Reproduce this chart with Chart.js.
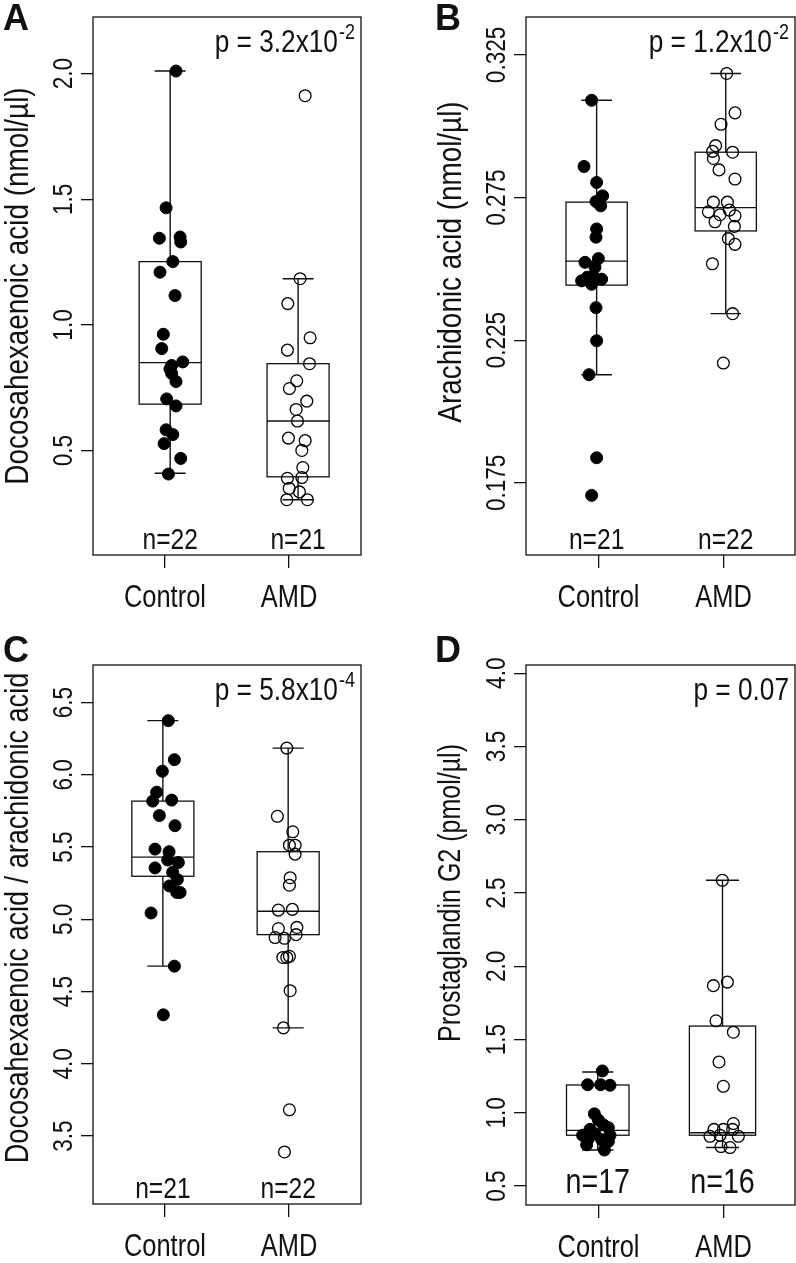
<!DOCTYPE html>
<html><head><meta charset="utf-8">
<script src="https://cdn.jsdelivr.net/npm/chart.js@4.4.1/dist/chart.umd.min.js"></script>
<style>
html,body{margin:0;padding:0;background:#fff;}
body{width:796px;height:1263px;position:relative;overflow:hidden;}
canvas{position:absolute;}
</style></head><body>
<canvas id="cA" width="398" height="632" style="left:0px;top:0px"></canvas>
<canvas id="cB" width="398" height="632" style="left:398px;top:0px"></canvas>
<canvas id="cC" width="398" height="631" style="left:0px;top:632px"></canvas>
<canvas id="cD" width="398" height="631" style="left:398px;top:632px"></canvas>
<script>
// ---------- data ----------
const categories = ['Control', 'AMD'];

// Panel A: Docosahexaenoic acid (nmol/µl)
const aControlValues = [2.01, 1.466, 1.345, 1.35, 1.33, 1.252, 1.21, 1.117, 0.963, 0.906, 0.853, 0.839, 0.825, 0.807, 0.775, 0.706, 0.678, 0.583, 0.564, 0.528, 0.469, 0.407];
const aControlJitter = [1.089, 1.009, 0.955, 1.122, 1.127, 1.063, 0.960, 1.081, 0.987, 0.974, 1.143, 1.054, 1.04, 1.054, 1.089, 1.014, 1.089, 1.009, 1.063, 0.993, 1.127, 1.028];
const aAmdValues = [1.912, 1.184, 1.085, 0.949, 0.90, 0.846, 0.778, 0.747, 0.697, 0.664, 0.618, 0.550, 0.540, 0.501, 0.433, 0.390, 0.393, 0.350, 0.336, 0.305, 0.305];
const aAmdJitter = [2.130, 2.089, 1.990, 2.170, 1.987, 2.165, 2.062, 2.003, 2.143, 2.057, 2.068, 1.995, 2.130, 2.103, 2.111, 1.987, 2.103, 2.001, 2.084, 1.982, 2.148];
const aBoxControl = [0.41, 0.685, 0.85, 1.252, 2.01];   // low whisker, Q1, median, Q3, high whisker
const aBoxAmd = [0.305, 0.396, 0.618, 0.846, 1.184];
const aTicks = [0.5, 1.0, 1.5, 2.0];
const aTickLabels = ['0.5', '1.0', '1.5', '2.0'];
const aCounts = ['n=22', 'n=21'];

// Panel B: Arachidonic acid (nmol/µl)
const bControlValues = [0.3091, 0.2859, 0.2803, 0.2756, 0.2736, 0.2721, 0.2640, 0.2611, 0.2523, 0.2536, 0.2506, 0.2474, 0.2458, 0.2471, 0.2464, 0.2446, 0.2364, 0.2248, 0.2129, 0.1838, 0.1706];
const bControlJitter = [0.945, 0.884, 0.985, 1.033, 0.980, 1.017, 0.985, 0.980, 0.892, 0.999, 0.972, 0.959, 0.865, 0.911, 1.025, 0.945, 0.980, 0.985, 0.924, 0.985, 0.945];
const bAmdValues = [0.3185, 0.3047, 0.3007, 0.2932, 0.2912, 0.2909, 0.2887, 0.2847, 0.2815, 0.2734, 0.2734, 0.2700, 0.2690, 0.2706, 0.2686, 0.2665, 0.2649, 0.2606, 0.2586, 0.2518, 0.2343, 0.2170];
const bAmdJitter = [2.025, 2.092, 1.980, 1.937, 1.913, 2.073, 1.919, 1.964, 2.092, 1.919, 2.031, 1.879, 1.972, 2.047, 2.092, 1.932, 2.087, 2.039, 2.092, 1.911, 2.073, 1.999];
const bBoxControl = [0.2129, 0.2443, 0.2527, 0.2734, 0.3091];
const bBoxAmd = [0.2343, 0.2633, 0.2715, 0.2909, 0.3185];
const bTicks = [0.175, 0.225, 0.275, 0.325];
const bTickLabels = ['0.175', '0.225', '0.275', '0.325'];
const bCounts = ['n=21', 'n=22'];

// Panel C: Docosahexaenoic acid / arachidonic acid
const cControlValues = [6.375, 6.105, 6.025, 5.880, 5.818, 5.825, 5.718, 5.648, 5.486, 5.468, 5.411, 5.393, 5.356, 5.326, 5.276, 5.231, 5.186, 5.186, 5.044, 4.676, 4.339];
const cControlJitter = [1.027, 1.076, 0.979, 0.933, 0.901, 1.054, 0.955, 1.081, 0.920, 1.033, 1.022, 1.108, 0.920, 1.062, 1.100, 1.036, 1.095, 1.122, 0.888, 1.076, 0.987];
const cAmdValues = [6.185, 5.713, 5.606, 5.513, 5.513, 5.451, 5.288, 5.236, 5.064, 5.069, 4.936, 4.944, 4.874, 4.869, 4.894, 4.736, 4.744, 4.736, 4.506, 4.249, 3.682, 3.390];
const cAmdJitter = [1.982, 1.906, 2.030, 2.003, 2.049, 2.049, 2.009, 2.003, 1.914, 2.027, 1.914, 2.063, 1.888, 1.963, 2.057, 1.982, 2.003, 1.950, 2.009, 1.955, 2.003, 1.963];
const cBoxControl = [4.676, 5.298, 5.431, 5.818, 6.375];
const cBoxAmd = [4.249, 4.894, 5.056, 5.468, 6.185];
const cTicks = [3.5, 4.0, 4.5, 5.0, 5.5, 6.0, 6.5];
const cTickLabels = ['3.5', '4.0', '4.5', '5.0', '5.5', '6.0', '6.5'];
const cCounts = ['n=21', 'n=22'];

// Panel D: Prostaglandin G2 (pmol/µl)
const dControlValues = [1.286, 1.192, 1.192, 1.188, 0.993, 0.951, 0.918, 0.899, 0.887, 0.847, 0.857, 0.847, 0.824, 0.817, 0.805, 0.782, 0.746];
const dControlJitter = [1.031, 0.913, 1.017, 1.092, 0.967, 0.999, 1.039, 1.079, 0.932, 0.873, 0.972, 1.092, 0.919, 1.025, 1.079, 0.905, 1.047];
const dAmdValues = [2.587, 1.868, 1.892, 1.628, 1.550, 1.347, 1.181, 0.887, 0.887, 0.927, 0.887, 0.840, 0.847, 0.840, 0.770, 0.763];
const dAmdJitter = [1.991, 1.919, 2.031, 1.940, 2.079, 1.964, 1.999, 1.924, 1.999, 2.079, 2.073, 1.892, 1.972, 2.119, 1.980, 2.052];
const dBoxControl = [0.746, 0.847, 0.880, 1.190, 1.279];
const dBoxAmd = [0.763, 0.847, 0.864, 1.592, 2.587];
const dTicks = [0.5, 1.0, 1.5, 2.0, 2.5, 3.0, 3.5, 4.0];
const dTickLabels = ['0.5', '1.0', '1.5', '2.0', '2.5', '3.0', '3.5', '4.0'];
const dCounts = ['n=17', 'n=16'];

const panelLetters = ['A', 'B', 'C', 'D'];
const yTitles = ['Docosahexaenoic acid (nmol/\u00b5l)', 'Arachidonic acid (nmol/\u00b5l)', 'Docosahexaenoic acid / arachidonic acid', 'Prostaglandin G2 (pmol/\u00b5l)'];
const pTexts = ['p = 3.2x10', 'p = 1.2x10', 'p = 5.8x10', 'p = 0.07'];
const pExponents = ['-2', '-2', '-4', ''];

// ---------- layout / style ----------
const FAM = '"Liberation Sans", Arial, Helvetica, sans-serif';
const SQ = 0.82; // condensed look
const INK = '#111';

const panels = [
  { id: 'cA', ox: 0, oy: 0, L: 93, T: 17, R: 361, B: 555, yMin: 0.085, yMax: 2.225, xMin: 0.42, xMax: 2.58,
    centers: [1.042, 2.073], half: [0.25, 0.25], nSize: 30, nOff: 6, titleSize: 34, titleY: 286,
    ctrl: [aControlJitter, aControlValues], amd: [aAmdJitter, aAmdValues], boxes: [aBoxControl, aBoxAmd],
    ticks: aTicks, tickLabels: aTickLabels, counts: aCounts },
  { id: 'cB', ox: 398, oy: 0, L: 526, T: 17, R: 795, B: 555, yMin: 0.1497, yMax: 0.3383, xMin: 0.42, xMax: 2.572,
    centers: [0.985, 2.018], half: [0.245, 0.245], nSize: 30, nOff: 6, titleSize: 34, titleY: 262,
    ctrl: [bControlJitter, bControlValues], amd: [bAmdJitter, bAmdValues], boxes: [bBoxControl, bBoxAmd],
    ticks: bTicks, tickLabels: bTickLabels, counts: bCounts },
  { id: 'cC', ox: 0, oy: 632, L: 93, T: 665, R: 361, B: 1204, yMin: 3.03, yMax: 6.76, xMin: 0.42, xMax: 2.58,
    centers: [0.983, 1.993], half: [0.25, 0.25], nSize: 30, nOff: 6, titleSize: 33, titleY: 918,
    ctrl: [cControlJitter, cControlValues], amd: [cAmdJitter, cAmdValues], boxes: [cBoxControl, cBoxAmd],
    ticks: cTicks, tickLabels: cTickLabels, counts: cCounts },
  { id: 'cD', ox: 398, oy: 632, L: 526, T: 665, R: 795, B: 1205, yMin: 0.371, yMax: 4.056, xMin: 0.42, xMax: 2.572,
    centers: [0.994, 1.992], half: [0.25, 0.265], nSize: 35, nOff: 12, titleSize: 30.5, titleY: 893,
    ctrl: [dControlJitter, dControlValues], amd: [dAmdJitter, dAmdValues], boxes: [dBoxControl, dBoxAmd],
    ticks: dTicks, tickLabels: dTickLabels, counts: dCounts }
];

function drawText(ctx, s, x, y, size, o) {
  o = o || {};
  ctx.save();
  ctx.translate(x, y);
  if (o.rot) ctx.rotate(o.rot);
  const sq = o.sq === undefined ? SQ : o.sq;
  ctx.scale(sq, 1);
  ctx.font = (o.bold ? 'bold ' : '') + size + 'px ' + FAM;
  ctx.fillStyle = INK;
  ctx.textAlign = o.align || 'center';
  ctx.textBaseline = o.base || 'alphabetic';
  ctx.fillText(s, 0, 0);
  ctx.restore();
}
function textWidth(ctx, s, size) {
  ctx.save();
  ctx.font = size + 'px ' + FAM;
  const w = ctx.measureText(s).width * SQ;
  ctx.restore();
  return w;
}

panels.forEach((p, idx) => {
  const canvas = document.getElementById(p.id);
  const cw = canvas.width, ch = canvas.height;
  const yW = p.L - p.ox;
  const xH = 40;
  const padTop = p.T - p.oy;
  const padRight = p.ox + cw - p.R;
  const padBottom = p.oy + ch - p.B - xH;

  const boxPlugin = {
    id: 'boxes' + idx,
    beforeDatasetsDraw(chart) {
      const ctx = chart.ctx, xs = chart.scales.x, ys = chart.scales.y;
      ctx.save();
      ctx.strokeStyle = INK;
      p.boxes.forEach((st, g) => {
        const c = p.centers[g], h = p.half[g];
        const xl = xs.getPixelForValue(c - h), xr = xs.getPixelForValue(c + h), xc = xs.getPixelForValue(c);
        const sl = xs.getPixelForValue(c - h / 2), sr = xs.getPixelForValue(c + h / 2);
        const yLo = ys.getPixelForValue(st[0]), yQ1 = ys.getPixelForValue(st[1]), yMed = ys.getPixelForValue(st[2]),
              yQ3 = ys.getPixelForValue(st[3]), yHi = ys.getPixelForValue(st[4]);
        ctx.lineWidth = 1.4;
        ctx.beginPath();
        ctx.moveTo(xc, yQ3); ctx.lineTo(xc, yHi);
        ctx.moveTo(sl, yHi); ctx.lineTo(sr, yHi);
        ctx.moveTo(xc, yQ1); ctx.lineTo(xc, yLo);
        ctx.moveTo(sl, yLo); ctx.lineTo(sr, yLo);
        ctx.stroke();
        ctx.lineWidth = 1.3;
        ctx.strokeRect(xl, yQ3, xr - xl, yQ1 - yQ3);
        ctx.beginPath();
        ctx.moveTo(xl, yMed); ctx.lineTo(xr, yMed);
        ctx.stroke();
      });
      ctx.restore();
    },
    afterDraw(chart) {
      const ctx = chart.ctx, xs = chart.scales.x, ys = chart.scales.y, a = chart.chartArea;
      ctx.save();
      ctx.strokeStyle = INK;
      ctx.lineWidth = 1.3;
      ctx.strokeRect(a.left, a.top, a.right - a.left, a.bottom - a.top);
      ctx.restore();
      // y tick labels (rotated, like R)
      p.ticks.forEach((v, i) => {
        drawText(ctx, p.tickLabels[i], a.left - 29, ys.getPixelForValue(v), 27.5, { rot: -Math.PI / 2, base: 'middle' });
      });
      // y title
      drawText(ctx, yTitles[idx], a.left - 74, p.titleY - p.oy, p.titleSize, { rot: -Math.PI / 2, base: 'middle' });
      // x category labels
      categories.forEach((c, i) => {
        drawText(ctx, c, xs.getPixelForValue(i + 1), a.bottom + 52, 31);
      });
      // n labels
      p.counts.forEach((c, i) => {
        drawText(ctx, c, xs.getPixelForValue(p.centers[i]), a.bottom - p.nOff, p.nSize);
      });
      // p value
      const exp = pExponents[idx];
      const expW = exp ? textWidth(ctx, exp, 22) : 0;
      const endX = a.right - 6 - expW - (exp ? 1 : 0);
      const by = a.top + 35;
      drawText(ctx, pTexts[idx], endX, by, 32, { align: 'right' });
      if (exp) drawText(ctx, exp, endX + 1, by - 13, 22, { align: 'left' });
      // panel letter
      drawText(ctx, panelLetters[idx], idx % 2 === 0 ? 3 : 37, 30, 36, { bold: true, sq: 1, align: 'left' });
    }
  };

  new Chart(canvas, {
    type: 'scatter',
    data: {
      datasets: [
        { label: categories[0], data: p.ctrl[1].map((v, i) => ({ x: p.ctrl[0][i], y: v })),
          pointRadius: 6, pointBorderWidth: 1, pointBackgroundColor: '#000', pointBorderColor: '#000' },
        { label: categories[1], data: p.amd[1].map((v, i) => ({ x: p.amd[0][i], y: v })),
          pointRadius: 5.9, pointBorderWidth: 1.3, pointBackgroundColor: 'rgba(0,0,0,0)', pointBorderColor: '#000' }
      ]
    },
    options: {
      responsive: false, devicePixelRatio: 1, animation: false,
      layout: { autoPadding: false, padding: { left: 0, top: padTop, right: padRight, bottom: padBottom } },
      plugins: { legend: { display: false }, tooltip: { enabled: false } },
      scales: {
        x: { type: 'linear', min: p.xMin, max: p.xMax,
          afterBuildTicks: s => { s.ticks = categories.map((c, i) => ({ value: i + 1 })); },
          afterFit: s => { s.height = xH; },
          ticks: { display: false },
          grid: { drawOnChartArea: false, drawTicks: true, tickLength: 13, color: INK, lineWidth: 1.3 },
          border: { display: false } },
        y: { type: 'linear', min: p.yMin, max: p.yMax,
          afterBuildTicks: s => { s.ticks = p.ticks.map(v => ({ value: v })); },
          afterFit: s => { s.width = yW; },
          ticks: { display: false },
          grid: { drawOnChartArea: false, drawTicks: true, tickLength: 12, color: INK, lineWidth: 1.3 },
          border: { display: false } }
      }
    },
    plugins: [boxPlugin]
  });
});
</script>
</body></html>
